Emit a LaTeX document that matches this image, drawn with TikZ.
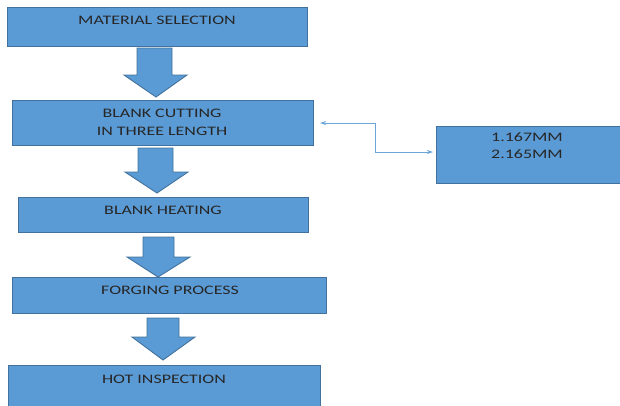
\documentclass[tikz,border=0pt]{standalone}
\usepackage{fontspec}
\setmainfont{Carlito}
\usetikzlibrary{arrows.meta}
\definecolor{boxfill}{HTML}{5B9BD5}
\definecolor{boxline}{HTML}{41719C}
\newcommand{\wide}[1]{\scalebox{1.38}[1]{#1}}
\tikzset{
  box/.style={draw=boxline, fill=boxfill, line width=0.9pt, inner sep=0pt},
  lbl/.style={font=\fontsize{13}{18}\selectfont, text=black!85, inner sep=0pt, align=center, anchor=center},
  blockarrow/.style={draw=boxline, fill=boxfill, line width=0.9pt, line join=miter},
  conn/.style={draw=boxfill!90!white, line width=0.8pt, {Stealth[length=6pt,width=4pt]}-{Stealth[length=6pt,width=4pt]}}
}
\begin{document}
\begin{tikzpicture}[x=1pt,y=-1pt]
\useasboundingbox (0,0) rectangle (620,405);
% boxes
\path[box] (7,7) rectangle (307,46); \node[inner sep=0pt] (b1) at (157,26.5) {};
\path[box] (12,100) rectangle (313,145); \node[inner sep=0pt] (b2) at (162.5,122.5) {};
\path[box] (18,197) rectangle (308,232); \node[inner sep=0pt] (b3) at (163,214.5) {};
\path[box] (12,277) rectangle (326,313); \node[inner sep=0pt] (b4) at (169,295) {};
\path[box] (8,365) rectangle (320,410); \node[inner sep=0pt] (b5) at (164,385) {};
\path[box] (436,126) rectangle (622,183); \node[inner sep=0pt] (r) at (529,154.5) {};
% labels
\node[lbl] (t1) at (157,20) {\wide{MATERIAL SELECTION}};
\node[lbl] (t2) at (162,122) {\wide{BLANK CUTTING}\\\wide{IN THREE LENGTH}};
\node[lbl] (t3) at (163,210) {\wide{BLANK HEATING}};
\node[lbl] (t4) at (170,290) {\wide{FORGING PROCESS}};
\node[lbl] (t5) at (164,379) {\wide{HOT INSPECTION}};
\node[lbl, font=\fontsize{13}{17}\selectfont] (tr) at (527,146) {\wide{1.167MM}\\\wide{2.165MM}};
% block arrows
\path[blockarrow] (137,48) -- (172,48) -- (172,75) -- (187,75) -- (156,97) -- (124,75) -- (137,75) -- cycle;
\path[blockarrow] (138,148) -- (173,148) -- (173,172) -- (188,172) -- (157,193) -- (125,172) -- (138,172) -- cycle;
\path[blockarrow] (143,237) -- (174,237) -- (174,257) -- (190,257) -- (158,277) -- (127,257) -- (143,257) -- cycle;
\path[blockarrow] (147,318) -- (179,318) -- (179,337) -- (195,337) -- (163,360) -- (132,337) -- (147,337) -- cycle;
% connector
\coordinate (cl) at (320,123);
\coordinate (cr) at (433,152);
\draw[conn] (cl) -- (375,123) -- (375,152) -- (cr);
\end{tikzpicture}
\end{document}
